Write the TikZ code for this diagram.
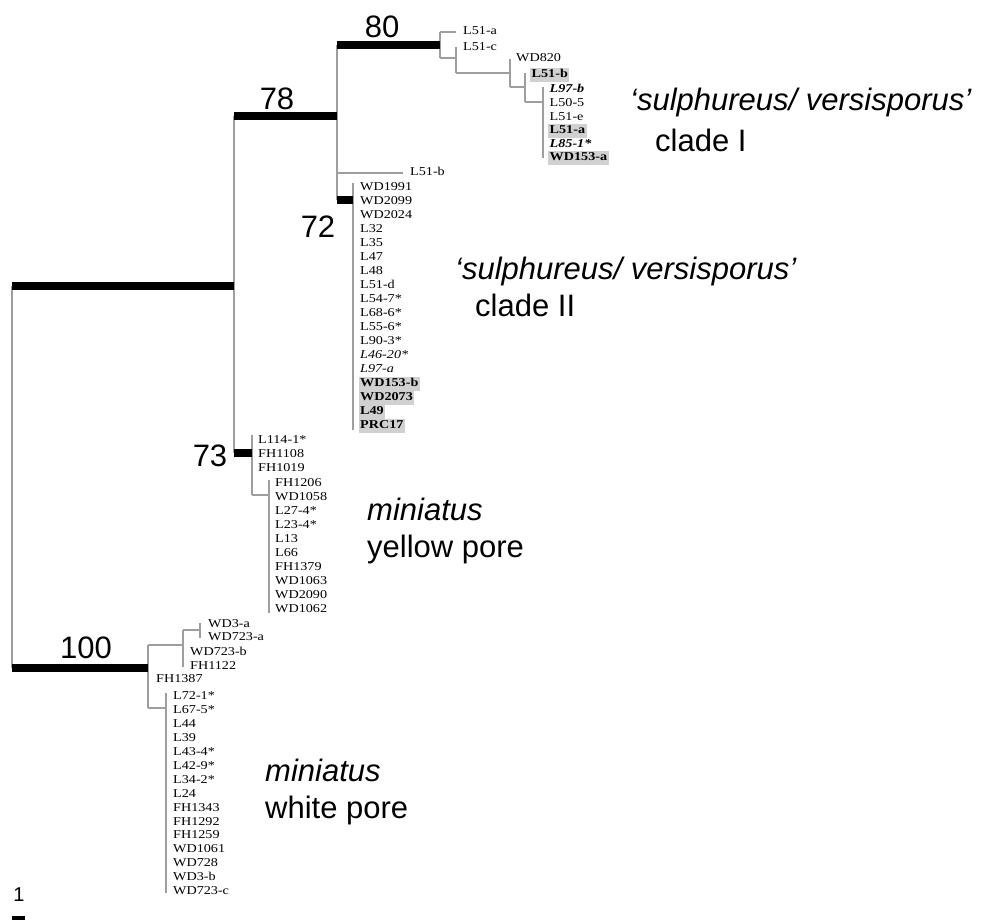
\documentclass[tikz,border=0pt]{standalone}
\usepackage{fontspec}
\usetikzlibrary{calc}
\setmainfont{Liberation Serif}
\newfontfamily\tipfont[FakeStretch=1.18]{Liberation Serif}
\newfontfamily\labelfont{Liberation Sans}

\begin{document}
\begin{tikzpicture}[x=1pt,y=-1pt,
  br/.style={draw=black!38, line width=1.3pt},
  bar/.style={draw=black, line width=8pt},
  tip/.style={anchor=west, inner xsep=1.5pt, inner ysep=0.8pt, text height=8.4pt, text depth=2.6pt,
              font=\tipfont\fontsize{12}{12}\selectfont},
  tipb/.style={tip, font=\tipfont\fontsize{12}{12}\selectfont\bfseries},
  tipi/.style={tip, font=\tipfont\fontsize{12}{12}\selectfont\itshape},
  tipbi/.style={tip, font=\tipfont\fontsize{12}{12}\selectfont\bfseries\itshape},
  hl/.style={tipb, fill=black!18, inner ysep=1.5pt},
  support/.style={font=\labelfont\fontsize{31}{31}\selectfont, inner sep=0pt},
  clade/.style={font=\labelfont\fontsize{31}{31}\selectfont, anchor=base west, inner sep=0pt},
]
\useasboundingbox (0,0) rectangle (998,920);

% internal nodes: x of the node, y where the parent branch enters
\coordinate (root) at (12,477);
\coordinate (A) at (234,286);
\coordinate (B) at (337,116);
\coordinate (C) at (440,45);
\coordinate (D) at (456,58);
\coordinate (E) at (510,73);
\coordinate (F) at (525,87);
\coordinate (G) at (543,102);
\coordinate (H) at (353,200);
\coordinate (I) at (252,453);
\coordinate (J) at (269,495);
\coordinate (W) at (148,668);
\coordinate (W1) at (183,645);
\coordinate (W2) at (200,630);
\coordinate (W3) at (166,708);

% ---- tip labels: clade I
\node[tip] (c1) at (461.5,32) {L51-a};
\node[tip] (d1) at (461.5,48) {L51-c};
\node[tip] (e1) at (514.5,59) {WD820};
\node[hl] (f1) at (530,75) {L51-b};
\node[tipbi] (g1) at (548,90) {L97-b};
\node[tip] (g2) at (548,103.6) {L50-5};
\node[tip] (g3) at (548,117.2) {L51-e};
\node[hl] (g4) at (548,130.8) {L51-a};
\node[tipbi] (g5) at (548,144.4) {L85-1*};
\node[hl] (g6) at (548,158) {WD153-a};

% ---- tip labels: clade II
\node[tip] (b1) at (408.5,173) {L51-b};
\foreach \t [count=\k] in {WD1991,WD2099,WD2024,L32,L35,L47,L48,L51-d,L54-7*,L68-6*,L55-6*,L90-3*}
  \node[tip] (h\k) at (358.5,{188+14*(\k-1)}) {\t};
\node[tipi] (h13) at (358.5,356) {L46-20*};
\node[tipi] (h14) at (358.5,370) {L97-a};
\node[hl] (h15) at (358.5,384) {WD153-b};
\node[hl] (h16) at (358.5,398) {WD2073};
\node[hl] (h17) at (358.5,412) {L49};
\node[hl] (h18) at (358.5,426) {PRC17};

% ---- tip labels: yellow pore
\foreach \t [count=\k] in {L114-1*,FH1108,FH1019}
  \node[tip] (i\k) at (256.5,{441+14*(\k-1)}) {\t};
\foreach \t [count=\k] in {FH1206,WD1058,L27-4*,L23-4*,L13,L66,FH1379,WD1063,WD2090,WD1062}
  \node[tip] (j\k) at (273.5,{484+14*(\k-1)}) {\t};

% ---- tip labels: white pore
\node[tip] (x1) at (206.5,625) {WD3-a};
\node[tip] (x2) at (206.5,638) {WD723-a};
\node[tip] (w1) at (188.5,653) {WD723-b};
\node[tip] (w2) at (188.5,667) {FH1122};
\node[tip] (v1) at (154.5,680) {FH1387};
\foreach \t [count=\k] in {L72-1*,L67-5*,L44,L39,L43-4*,L42-9*,L34-2*,L24,FH1343,FH1292,FH1259,WD1061,WD728,WD3-b,WD723-c}
  \node[tip] (y\k) at (171.5,{697+13.9*(\k-1)}) {\t};

% ---- vertical connectors of the nodes
\draw[br] (root |- A) -- (root |- W);
\draw[br] (A |- B) -- (A |- I);
\draw[br] (B |- C) -- (B |- H);
\draw[br] (C |- c1) -- (C |- D);
\draw[br] ($(D |- d1)+(0,-1)$) -- (D |- E);
\draw[br] (E |- e1) -- (E |- F);
\draw[br] ($(F |- f1)+(0,-2)$) -- (F |- G);
\draw[br] ($(G |- g1)+(0,-3)$) -- (G |- g6);
\draw[br] ($(H |- h1)+(0,-5)$) -- ($(H |- h18)+(0,4)$);
\draw[br] ($(I |- i1)+(0,-6)$) -- (I |- J);
\draw[br] ($(J |- j1)+(0,-4)$) -- ($(J |- j10)+(0,3)$);
\draw[br] (W |- W1) -- (W |- W3);
\draw[br] (W1 |- W2) -- (W1 |- w2);
\draw[br] ($(W2 |- x1)+(0,-2)$) -- (W2 |- x2);
\draw[br] ($(W3 |- y1)+(0,-4)$) -- ($(W3 |- y15)+(0,1)$);

% ---- thin horizontal branches
\draw[br] (C |- c1) -- ($(c1.west)+(-5.5,0)$);
\draw[br] (C |- D) -- (D);
\draw[br] (D |- E) -- (E);
\draw[br] (E |- F) -- (F);
\draw[br] (F |- G) -- (G);
\draw[br] (B |- b1) -- ($(b1.west)+(-5.5,0)$);
\draw[br] (I |- J) -- (J);
\draw[br] (W |- W1) -- (W1);
\draw[br] (W1 |- W2) -- (W2);
\draw[br] (W |- W3) -- (W3);

% ---- supported branches
\draw[bar] (root |- A) -- (A);
\draw[bar] (A |- B) -- (B);
\draw[bar] (B |- C) -- (C);
\draw[bar] (B |- H) -- (H);
\draw[bar] (A |- I) -- (I);
\draw[bar] (root |- W) -- (W);

% ---- support values
\node[support] (s80) at (382,27) {80};
\node[support] (s78) at (277,99) {78};
\node[support] (s72) at (318,227) {72};
\node[support] (s73) at (210,456) {73};
\node[support] (s100) at (86,648) {100};

% ---- clade names
\node[clade] (n1a) at (630,111) {\itshape ‘sulphureus/ versisporus’};
\node[clade] (n1b) at (655,152) {clade I};
\node[clade] (n2a) at (455,279) {\itshape ‘sulphureus/ versisporus’};
\node[clade] (n2b) at (475,316) {clade II};
\node[clade] (n3a) at (367,520) {\itshape miniatus};
\node[clade] (n3b) at (367,557) {yellow pore};
\node[clade] (n4a) at (265,781) {\itshape miniatus};
\node[clade] (n4b) at (265,818) {white pore};

% ---- scale bar
\node[font=\labelfont\fontsize{20}{20}\selectfont, inner sep=0pt] (sc) at (19,895) {1};
\coordinate (sbl) at (12,918);
\coordinate (sbr) at (25,918);
\draw[draw=black, line width=5pt] (sbl) -- (sbr);
\end{tikzpicture}
\end{document}
